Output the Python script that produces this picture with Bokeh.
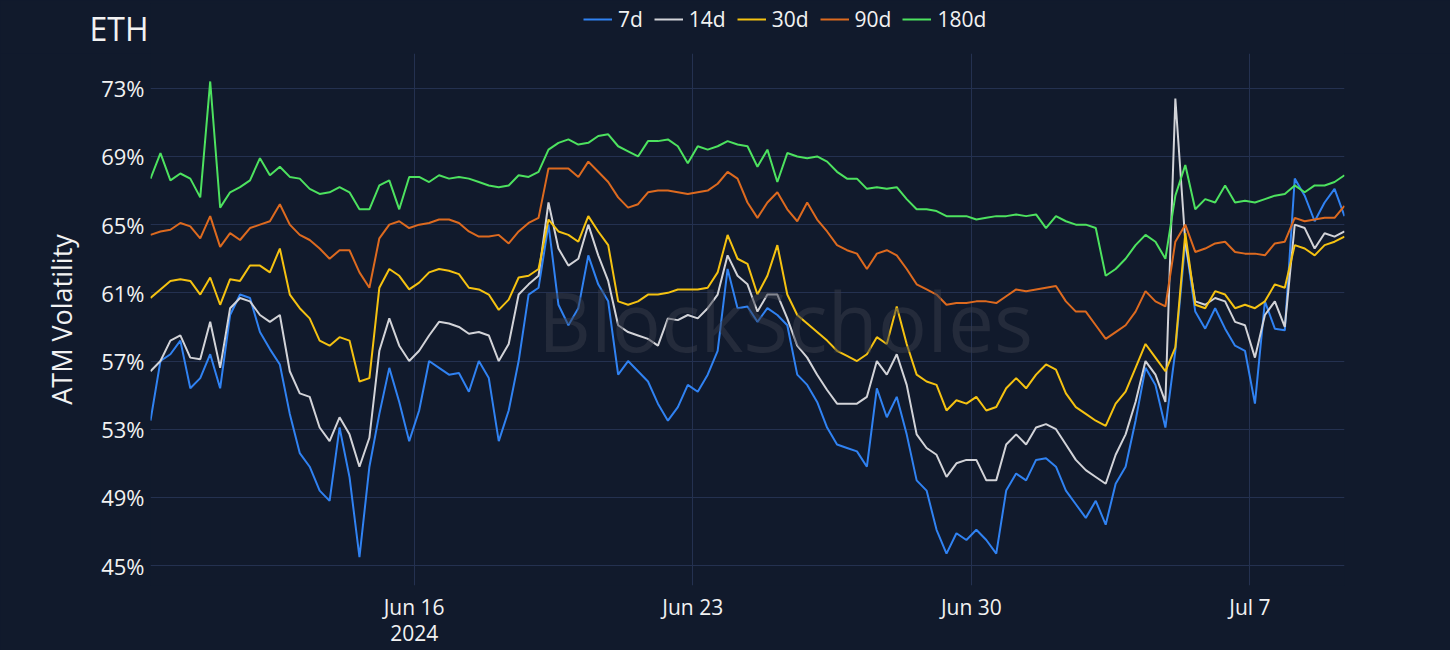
import datetime as dt
from bokeh.plotting import figure
from bokeh.layouts import column
from bokeh.models import (Range1d, FixedTicker, PrintfTickFormatter, Legend,
                          LegendItem, Label)
from bokeh.embed import file_html
from bokeh.resources import INLINE

# ---------------- data (6-hourly samples) ----------------
start = dt.datetime(2024, 6, 9, 9)
end = dt.datetime(2024, 7, 9, 9)
step_hours = 6

vol_7d = [
    53.5, 57.0, 57.4, 58.2, 55.4, 56.0, 57.4, 55.4, 59.7, 60.9, 60.7, 58.7, 57.7, 56.8, 53.9, 51.6,
    50.8, 49.4, 48.8, 53.1, 50.2, 45.5, 50.8, 53.9, 56.6, 54.6, 52.3, 54.1, 57.0, 56.6, 56.2, 56.3,
    55.2, 57.0, 56.0, 52.3, 54.1, 57.0, 60.9, 61.3, 65.0, 60.3, 59.1, 60.1, 63.2, 61.5, 60.5, 56.2,
    57.0, 56.4, 55.8, 54.5, 53.5, 54.3, 55.6, 55.2, 56.2, 57.6, 62.4, 60.1, 60.2, 59.3, 60.1, 59.7,
    59.1, 56.2, 55.6, 54.6, 53.1, 52.1, 51.9, 51.7, 50.8, 55.4, 53.7, 54.9, 52.7, 50.0, 49.4, 47.1,
    45.7, 46.9, 46.5, 47.1, 46.5, 45.7, 49.4, 50.4, 50.0, 51.2, 51.3, 50.8, 49.4, 48.6, 47.8, 48.8,
    47.4, 49.8, 50.8, 53.5, 56.6, 55.6, 53.1, 57.6, 64.0, 59.9, 58.9, 60.1, 58.9, 57.9, 57.6, 54.5,
    60.5, 58.9, 58.8, 67.7, 66.7, 65.2, 66.3, 67.1, 65.5,
]
vol_14d = [
    56.4, 57.0, 58.2, 58.5, 57.2, 57.1, 59.3, 56.6, 60.1, 60.7, 60.5, 59.7, 59.3, 59.7, 56.4, 55.1,
    54.9, 53.1, 52.3, 53.7, 52.7, 50.8, 52.5, 57.6, 59.5, 57.9, 57.0, 57.6, 58.5, 59.3, 59.2, 59.0,
    58.6, 58.7, 58.5, 57.0, 58.0, 60.9, 61.5, 62.0, 66.3, 63.6, 62.6, 63.0, 65.0, 63.2, 61.7, 59.1,
    58.7, 58.5, 58.3, 57.9, 59.5, 59.4, 59.7, 59.5, 60.1, 60.9, 63.2, 62.0, 61.5, 59.9, 60.9, 60.9,
    59.5, 57.9, 57.2, 56.2, 55.3, 54.5, 54.5, 54.5, 54.9, 57.0, 56.2, 57.4, 55.6, 52.7, 51.9, 51.5,
    50.2, 51.0, 51.2, 51.2, 50.0, 50.0, 52.1, 52.7, 52.1, 53.1, 53.3, 53.0, 52.1, 51.2, 50.6, 50.2,
    49.8, 51.5, 52.7, 54.6, 57.0, 56.2, 54.6, 72.4, 64.0, 60.5, 60.3, 60.7, 60.5, 59.3, 59.1, 57.2,
    59.7, 60.5, 59.0, 65.0, 64.8, 63.6, 64.5, 64.3, 64.6,
]
vol_30d = [
    60.7, 61.2, 61.7, 61.8, 61.7, 60.9, 61.9, 60.3, 61.8, 61.7, 62.6, 62.6, 62.2, 63.6, 60.9, 60.1,
    59.5, 58.2, 57.9, 58.4, 58.2, 55.8, 56.0, 61.3, 62.4, 62.0, 61.2, 61.6, 62.2, 62.4, 62.3, 62.1,
    61.3, 61.2, 60.9, 60.0, 60.6, 61.9, 62.0, 62.4, 65.3, 64.6, 64.4, 64.0, 65.5, 64.6, 63.8, 60.5,
    60.3, 60.5, 60.9, 60.9, 61.0, 61.2, 61.2, 61.2, 61.3, 62.2, 64.4, 63.0, 62.7, 60.9, 62.0, 63.8,
    60.9, 59.7, 59.2, 58.7, 58.2, 57.6, 57.3, 57.0, 57.4, 58.4, 58.0, 60.2, 58.0, 56.2, 55.8, 55.6,
    54.1, 54.7, 54.5, 54.9, 54.1, 54.3, 55.4, 56.0, 55.4, 56.2, 56.8, 56.5, 55.1, 54.3, 53.9, 53.5,
    53.2, 54.5, 55.2, 56.6, 58.0, 57.2, 56.4, 57.8, 64.5, 60.3, 60.1, 61.1, 60.9, 60.1, 60.3, 60.1,
    60.5, 61.5, 61.3, 63.8, 63.6, 63.2, 63.8, 64.0, 64.3,
]
vol_90d = [
    64.4, 64.6, 64.7, 65.1, 64.9, 64.2, 65.5, 63.7, 64.5, 64.1, 64.8, 65.0, 65.2, 66.2, 65.0, 64.4,
    64.1, 63.6, 63.0, 63.5, 63.5, 62.2, 61.3, 64.2, 65.0, 65.2, 64.8, 65.0, 65.1, 65.3, 65.3, 65.1,
    64.6, 64.3, 64.3, 64.4, 63.9, 64.6, 65.1, 65.4, 68.3, 68.3, 68.3, 67.8, 68.7, 68.1, 67.5, 66.6,
    66.0, 66.2, 66.9, 67.0, 67.0, 66.9, 66.8, 66.9, 67.0, 67.4, 68.1, 67.7, 66.3, 65.4, 66.3, 66.9,
    65.9, 65.2, 66.3, 65.3, 64.6, 63.8, 63.5, 63.3, 62.4, 63.3, 63.5, 63.2, 62.4, 61.5, 61.2, 60.9,
    60.3, 60.4, 60.4, 60.5, 60.5, 60.4, 60.8, 61.2, 61.1, 61.2, 61.3, 61.4, 60.5, 59.9, 59.9, 59.1,
    58.3, 58.7, 59.1, 59.9, 61.1, 60.5, 60.2, 64.0, 65.0, 63.4, 63.6, 63.9, 64.0, 63.4, 63.3, 63.3,
    63.2, 63.9, 64.0, 65.4, 65.2, 65.3, 65.4, 65.4, 66.1,
]
vol_180d = [
    67.7, 69.2, 67.6, 68.0, 67.7, 66.6, 73.4, 66.0, 66.9, 67.2, 67.6, 68.9, 67.9, 68.4, 67.8, 67.7,
    67.1, 66.8, 66.9, 67.2, 66.9, 65.9, 65.9, 67.3, 67.6, 65.9, 67.8, 67.8, 67.5, 67.9, 67.7, 67.8,
    67.7, 67.5, 67.3, 67.2, 67.3, 67.9, 67.8, 68.1, 69.4, 69.8, 70.0, 69.7, 69.8, 70.2, 70.3, 69.6,
    69.3, 69.0, 69.9, 69.9, 70.0, 69.6, 68.6, 69.6, 69.4, 69.6, 69.9, 69.7, 69.6, 68.4, 69.4, 67.5,
    69.2, 69.0, 68.9, 69.0, 68.7, 68.1, 67.7, 67.7, 67.1, 67.2, 67.1, 67.2, 66.5, 65.9, 65.9, 65.8,
    65.5, 65.5, 65.5, 65.3, 65.4, 65.5, 65.5, 65.6, 65.5, 65.6, 64.8, 65.5, 65.2, 65.0, 65.0, 64.8,
    62.0, 62.4, 63.0, 63.8, 64.4, 64.0, 63.0, 66.7, 68.5, 65.9, 66.5, 66.3, 67.3, 66.3, 66.4, 66.3,
    66.5, 66.7, 66.8, 67.3, 66.9, 67.3, 67.3, 67.5, 67.9,
]

series_names = ["7d", "14d", "30d", "90d", "180d"]
series_values = [vol_7d, vol_14d, vol_30d, vol_90d, vol_180d]
series_colors = ["#3082f2", "#d2d3d8", "#f5c211", "#dd6a1f", "#4de25f"]

y_ticks = [45, 49, 53, 57, 61, 65, 69, 73]
x_tick_dates = [dt.datetime(2024, 6, 16), dt.datetime(2024, 6, 23),
                dt.datetime(2024, 6, 30), dt.datetime(2024, 7, 7)]
x_tick_labels = ["Jun 16\n2024", "Jun 23", "Jun 30", "Jul 7"]

times = [start + dt.timedelta(hours=step_hours * i) for i in range(len(vol_7d))]

# ---------------- styling ----------------
BG = "#111a2c"
GRID = "#243150"
TXT = "#f2f2f2"
FONT = "Open Sans"
W = 1450
HEAD_H = 53

epoch = dt.datetime(1970, 1, 1)
to_ms = lambda d: (d - epoch).total_seconds() * 1000.0

# ---------- header strip: "ETH" title + legend ----------
head = figure(width=W, height=HEAD_H, x_range=Range1d(0, 1), y_range=Range1d(0, 1),
              output_backend="svg", toolbar_location=None, x_axis_location=None,
              min_border_left=150, min_border_right=106,
              min_border_top=3, min_border_bottom=0)
head.background_fill_color = BG
head.border_fill_color = BG
head.outline_line_color = None
head.grid.visible = False
head.yaxis.ticker = FixedTicker(ticks=[])
head.yaxis.axis_line_color = None
head.yaxis.major_tick_line_color = None
head.yaxis.minor_tick_line_color = None
head.yaxis.major_label_standoff = 0
head.yaxis.axis_label = "ETH"
head.yaxis.axis_label_orientation = "horizontal"
head.yaxis.axis_label_standoff = 2
head.yaxis.axis_label_text_font = FONT
head.yaxis.axis_label_text_font_size = "32px"
head.yaxis.axis_label_text_font_style = "normal"
head.yaxis.axis_label_text_color = TXT

# legend swatch renderers (placed outside the header's visible range)
swatches = [head.line(x=[0, 1], y=[-5, -5], line_color=c, line_width=2) for c in series_colors]
legend = Legend(items=[LegendItem(label=n, renderers=[r]) for n, r in zip(series_names, swatches)],
                orientation="horizontal", location=(433, 20),
                background_fill_alpha=0, border_line_alpha=0,
                padding=0, margin=0, spacing=11, glyph_width=29, glyph_height=20,
                label_standoff=6, label_height=20,
                label_text_font=FONT, label_text_font_size="21px",
                label_text_color=TXT)
head.add_layout(legend)

# ---------- main chart ----------
p = figure(width=W, height=650 - HEAD_H, x_axis_type="datetime",
           x_range=Range1d(to_ms(start), to_ms(end)),
           y_range=Range1d(43.833, 75.04),
           output_backend="svg", toolbar_location=None,
           min_border_left=150, min_border_right=106,
           min_border_top=0, min_border_bottom=62)
p.background_fill_color = BG
p.border_fill_color = BG
p.outline_line_color = None

for name, vals, col in zip(series_names, series_values, series_colors):
    p.line(times, vals, line_color=col, line_width=2)

p.yaxis.ticker = FixedTicker(ticks=y_ticks)
p.yaxis.formatter = PrintfTickFormatter(format="%d%%")
xt = [to_ms(d) for d in x_tick_dates]
p.xaxis.ticker = FixedTicker(ticks=xt)
p.xaxis.major_label_overrides = {t: lab for t, lab in zip(xt, x_tick_labels)}

for ax in (p.xaxis, p.yaxis):
    ax.axis_line_color = None
    ax.major_tick_line_color = None
    ax.minor_tick_line_color = None
    ax.major_tick_out = 0
    ax.major_tick_in = 0
    ax.major_label_text_font = FONT
    ax.major_label_text_font_size = "22px"
    ax.major_label_text_color = TXT
p.yaxis.major_label_standoff = 6
p.xaxis.major_label_text_font_size = "21px"
p.xaxis.major_label_standoff = 7
p.xaxis.major_label_text_line_height = 0.95

p.yaxis.axis_label = "ATM Volatility"
p.yaxis.axis_label_text_font = FONT
p.yaxis.axis_label_text_font_size = "27px"
p.yaxis.axis_label_text_font_style = "normal"
p.yaxis.axis_label_text_color = TXT
p.yaxis.axis_label_standoff = 18

p.grid.grid_line_color = GRID
p.grid.grid_line_width = 1

# watermark
p.add_layout(Label(x=635, y=266, x_units="screen", y_units="screen",
                   text="BlockScholes", text_align="center", text_baseline="middle",
                   text_font=FONT, text_font_size="82px", text_color="#383c4a",
                   text_alpha=0.5, level="overlay"))

layout = column(head, p, spacing=0, styles={"background-color": BG})
open("out.html", "w").write(file_html(layout, INLINE))
